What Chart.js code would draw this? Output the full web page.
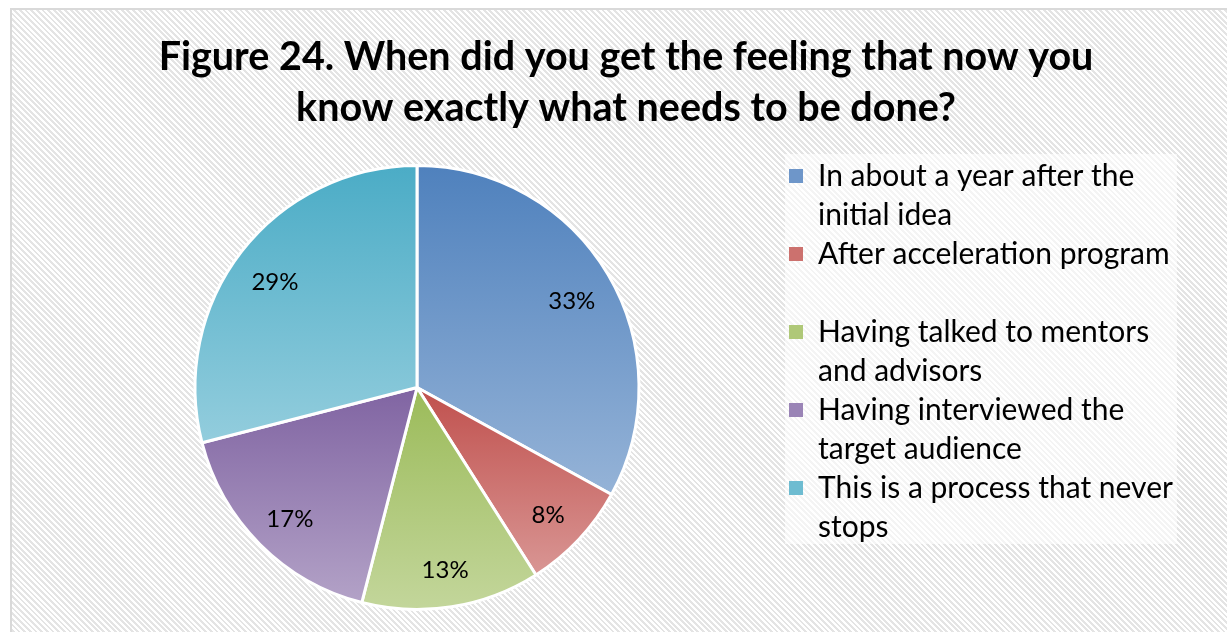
<!DOCTYPE html>
<html>
<head>
<meta charset="utf-8">
<script src="https://cdn.jsdelivr.net/npm/chart.js@4.4.0/dist/chart.umd.min.js"></script>
<style>
  html, body { margin: 0; padding: 0; overflow: hidden; background: #fff; }
  body { width: 1227px; height: 632px; position: relative; }
  #frame {
    position: absolute; left: 10px; top: 8px;
    width: 1228px; height: 630px;
    border: 2px solid #d9d9d9;
    background: repeating-linear-gradient(45deg, #ffffff 0px, #ffffff 2px, #e4e4e4 2px, #e4e4e4 4px);
  }
  canvas { display: block; }
</style>
</head>
<body>
<div id="frame"><canvas id="myPieChart" width="1228" height="630"></canvas></div>
<script>
const titleLines = ['Figure 24. When did you get the feeling that now you', 'know exactly what needs to be done?'];
const categories = [
  ['In about a year after the', 'initial idea'],
  ['After acceleration program'],
  ['Having talked to mentors', 'and advisors'],
  ['Having interviewed the', 'target audience'],
  ['This is a process that never', 'stops']
];
const percents = [33, 8, 13, 17, 29];
const topColors = ['#4f81bd', '#c0504d', '#9bbb59', '#8064a2', '#4bacc6'];
const bottomColors = ['#95b3d7', '#d99694', '#c3d69b', '#b3a2c7', '#93cddd'];
const legendColors = ['#6e96c9', '#cc716e', '#afc878', '#9a84b6', '#6ebcd1'];

const fontFamily = 'Lato';
const legendFontSize = 30;
const pieRadius = 222;

// room to the right of the legend, as in the original frame
const mctx = document.createElement('canvas').getContext('2d');
mctx.font = legendFontSize + 'px ' + fontFamily;
const longest = categories.flat().reduce((a, b) => a.length > b.length ? a : b);
const legendWidth = 14 + legendFontSize / 2 + mctx.measureText(longest).width + 10;
const spacerWidth = Math.max(0, 418 - legendWidth);

function sliceGradient(context) {
  const i = context.dataIndex;
  const chart = context.chart;
  const area = chart.chartArea;
  if (!area) return topColors[i];
  const cx = (area.left + area.right) / 2;
  const cy = (area.top + area.bottom) / 2;
  const total = percents.reduce((a, b) => a + b, 0);
  let before = 0;
  for (let k = 0; k < i; k++) before += percents[k];
  const a0 = -Math.PI / 2 + 2 * Math.PI * before / total;
  const a1 = a0 + 2 * Math.PI * percents[i] / total;
  const ys = [cy, cy + pieRadius * Math.sin(a0), cy + pieRadius * Math.sin(a1)];
  [Math.PI / 2, 3 * Math.PI / 2].forEach(a => {
    if (a > a0 && a < a1) ys.push(cy + pieRadius * Math.sin(a));
  });
  const g = chart.ctx.createLinearGradient(0, Math.min(...ys), 0, Math.max(...ys));
  g.addColorStop(0, topColors[i]);
  g.addColorStop(1, bottomColors[i]);
  return g;
}

const rightMargin = {
  id: 'rightMargin',
  beforeInit(chart) {
    Chart.layouts.addBox(chart, {
      position: 'right',
      weight: 2000,
      fullSize: false,
      // display false so the legend keeps its full width allowance
      options: { display: false },
      width: 0,
      height: 0,
      isHorizontal() { return false; },
      update(maxWidth, maxHeight) { this.width = spacerWidth; this.height = maxHeight; },
      draw() {}
    });
  }
};

const legendPanel = {
  id: 'legendPanel',
  beforeDraw(chart) {
    const boxes = chart.legend && chart.legend.legendHitBoxes;
    if (!boxes || !boxes.length) return;
    const left = Math.min(...boxes.map(b => b.left)) - 4;
    const top = Math.min(...boxes.map(b => b.top)) - 7;
    const right = Math.max(...boxes.map(b => b.left + b.width)) + 4;
    const bottom = Math.max(...boxes.map(b => b.top + b.height)) - 7;
    const ctx = chart.ctx;
    ctx.save();
    ctx.fillStyle = 'rgba(255,255,255,0.6)';
    ctx.fillRect(left, top, right - left, bottom - top);
    ctx.restore();
  }
};

const pieLabels = {
  id: 'pieLabels',
  afterDatasetsDraw(chart) {
    const ctx = chart.ctx;
    const meta = chart.getDatasetMeta(0);
    ctx.save();
    ctx.font = '24px ' + fontFamily;
    ctx.fillStyle = '#000';
    ctx.textAlign = 'center';
    ctx.textBaseline = 'middle';
    meta.data.forEach((arc, i) => {
      const p = arc.getProps(['x', 'y', 'startAngle', 'endAngle', 'outerRadius'], true);
      const mid = (p.startAngle + p.endAngle) / 2;
      const r = p.outerRadius * 0.81;
      ctx.fillText(percents[i] + '%', p.x + Math.cos(mid) * r, p.y + Math.sin(mid) * r + 5);
    });
    ctx.restore();
  }
};

const ctx = document.getElementById('myPieChart').getContext('2d');

new Chart(ctx, {
    type: 'pie',
    data: {
        labels: categories,
        datasets: [{
            data: percents,
            backgroundColor: sliceGradient,
            borderColor: '#ffffff',
            borderWidth: 3
        }]
    },
    options: {
        responsive: false,
        animation: false,
        radius: pieRadius,
        layout: {
            padding: { left: 33, right: 33, top: 0, bottom: 26 }
        },
        plugins: {
            title: {
                display: true,
                text: titleLines,
                color: '#000',
                font: { family: fontFamily, size: 39.5, weight: 'bold', lineHeight: 51 / 39.5 },
                padding: { top: 22, bottom: 27 }
            },
            legend: {
                position: 'right',
                align: 'start',
                fullSize: false,
                labels: {
                    color: '#000',
                    boxWidth: 14,
                    boxHeight: 14,
                    padding: 0,
                    font: { family: fontFamily, size: legendFontSize, lineHeight: 39 / legendFontSize },
                    generateLabels() {
                        return categories.map((lines, i) => ({
                            text: lines.length > 1 ? lines : [lines[0], ''],
                            fillStyle: legendColors[i],
                            strokeStyle: legendColors[i],
                            lineWidth: 0,
                            index: i
                        }));
                    }
                }
            },
            tooltip: { enabled: false }
        }
    },
    plugins: [rightMargin, legendPanel, pieLabels]
});
</script>
</body>
</html>
